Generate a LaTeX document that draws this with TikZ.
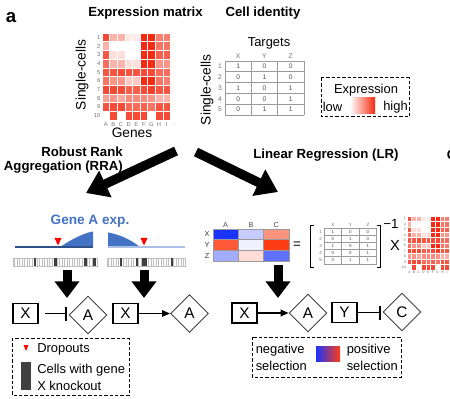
\documentclass[tikz,border=0pt]{standalone}
\usepackage{fontspec}
\setmainfont{Liberation Sans}
\setsansfont{Liberation Sans}
\usetikzlibrary{arrows.meta,positioning,calc,shapes.geometric}
\definecolor{Heat}{HTML}{F52A12}
\definecolor{GeneBlue}{HTML}{4472C4}
\definecolor{Drop}{HTML}{FF0000}
\definecolor{Knock}{HTML}{404040}
\definecolor{LabelGray}{HTML}{6E6E6E}
\definecolor{GridGray}{HTML}{9A9A9A}
\definecolor{SelBlue}{HTML}{1A33FF}
\definecolor{SelRed}{HTML}{FF3D15}

% expression heatmap: origin, scale, name prefix, column labels
\newcommand{\exprmap}[4]{%
  \begin{scope}[shift={#1},scale=#2,transform shape]
    \foreach \vals [count=\r] in {{85,35,35,10,10,100,100,60,60},{35,0,0,0,0,100,100,65,65},
        {80,15,15,0,0,100,100,75,75},{70,35,35,15,15,100,100,50,50},{80,80,85,80,80,85,85,70,70},
        {65,50,50,25,25,100,100,65,60},{85,85,85,75,75,85,90,80,80},{45,50,40,55,55,55,50,35,35},
        {80,85,85,70,70,75,65,80,80},{0,85,0,85,85,85,0,85,85}}{
      \foreach \v [count=\c] in \vals
        \fill[fill=Heat!\v!white,draw=white,line width=0.4pt] ({(\c-1)*7.6},{(\r-1)*8.7}) rectangle ++(7.6,8.7);
      \node[maplab,anchor=east] (#3r\r) at (-1.5,{(\r-0.5)*8.7}) {\r};
    }
    \foreach \l [count=\c] in {#4}
      \node[maplab] (#3c\c) at ({(\c-0.5)*7.6},91.5) {\l};
  \end{scope}}

% cell identity table: origin, scale, name prefix
\newcommand{\idtable}[3]{%
  \begin{scope}[shift={#1},scale=#2,transform shape]
    \foreach \vals [count=\r] in {{1,0,0},{0,1,0},{1,0,1},{0,0,1},{0,1,1}}{
      \foreach \v [count=\c] in \vals
        \node[idcell] (#3v\r\c) at ({(\c-0.5)*26.3},{(\r-0.5)*10.8}) {\v};
      \node[idlab,anchor=east] (#3r\r) at (-3,{(\r-0.5)*10.8}) {\r};
    }
    \foreach \l [count=\c] in {X,Y,Z}
      \node[idlab] (#3c\c) at ({(\c-0.5)*26.3},-4.5) {\l};
    \foreach \c in {0,...,3} \draw[idgrid] ({\c*26.3},0) -- ({\c*26.3},54);
    \foreach \r in {0,...,5} \draw[idgrid] (0,{\r*10.8}) -- (78.9,{\r*10.8});
  \end{scope}}

\begin{document}
\begin{tikzpicture}[x=0.75pt,y=-0.75pt,
  title/.style={font=\fontsize{9.9}{10.5}\selectfont\bfseries,inner sep=0pt},
  body/.style={font=\fontsize{9.7}{11}\selectfont,inner sep=0pt},
  maplab/.style={font=\fontsize{4.3}{5}\selectfont,text=LabelGray,inner sep=0pt},
  idlab/.style={font=\fontsize{5}{6}\selectfont,text=LabelGray,inner sep=0pt},
  idcell/.style={font=\fontsize{5}{6}\selectfont,text=black!70,inner sep=0pt},
  idgrid/.style={GridGray,line width=0.5pt},
  genebox/.style={draw,line width=0.8pt,minimum width=18.75pt,minimum height=15pt,inner sep=0pt,font=\fontsize{11.5}{12}\selectfont},
  genedia/.style={diamond,draw=black!75,line width=0.7pt,minimum width=28.5pt,minimum height=28.5pt,inner sep=0pt,font=\fontsize{11.5}{12}\selectfont},
  bigarrow/.style={line width=6.75pt,-{Triangle[width=18pt,length=12.5pt]}},
  slantarrow/.style={line width=7pt,-{Triangle[width=21pt,length=16pt]}},
  activate/.style={line width=0.8pt,-{Triangle[width=5pt,length=6pt]}},
  inhibit/.style={line width=0.8pt,-{Bar[width=10.5pt,line width=1.5pt]}},
  legendbox/.style={line width=0.75pt,dash pattern=on 2.5pt off 1.5pt},
  barcode/.style={black!25,line width=0.4pt}]
\useasboundingbox (0,0) rectangle (450,399);

% titles
\node[font=\fontsize{14}{14}\selectfont\bfseries] (panel) at (11,18) {a};
\node[title] (exptitle) at (145.5,13) {Expression matrix};
\node[title] (idtitle) at (263,13) {Cell identity};

% expression matrix
\exprmap{(102,33)}{1}{em}{A,B,C,D,E,F,G,H,I,.}
\node[body,rotate=90,font=\fontsize{10.3}{11}\selectfont] (emcells) at (82,75) {Single-cells};
\node[body,font=\fontsize{10.3}{11}\selectfont] (emgenes) at (132,133) {Genes};

% cell identity
\idtable{(225,61)}{1}{ci}
\node[body] (citargets) at (269,43) {Targets};
\node[body,rotate=90,font=\fontsize{10.3}{11}\selectfont] (cicells) at (207,90) {Single-cells};

% expression legend
\draw[legendbox] (321,78) rectangle (409,117);
\node[body] (explab) at (366,90) {Expression};
\node[body,anchor=west] (explow) at (322.5,107) {low};
\shade[left color=white,right color=Heat] (350,98) rectangle (375,114);
\node[body,anchor=east] (exphigh) at (408,107) {high};

% method titles and arrows
\node[title,align=right,anchor=east] (rra) at (123,160) {Robust Rank\\Aggregation (RRA)};
\node[title] (lr) at (326,155) {Linear Regression (LR)};
\node[title,anchor=west] (cut) at (446.5,155) {C};
\coordinate (rrafrom) at (176,151);
\coordinate (rrato) at (86,193);
\coordinate (lrfrom) at (196,152);
\coordinate (lrto) at (278,192);
\draw[slantarrow] (rrafrom) -- (rrato);
\draw[slantarrow] (lrfrom) -- (lrto);

% gene A expression
\node[title,text=GeneBlue,font=\fontsize{10.2}{11}\selectfont\bfseries] (genea) at (90,221) {Gene A exp.};
\fill[GeneBlue] (60,247) .. controls (72,239) and (84,233) .. (93,231.5) -- (93,247) -- cycle;
\draw[GeneBlue!70!black,line width=0.9pt] (15,247) -- (93,247);
\fill[GeneBlue] (108,232.5) .. controls (118,234) and (130,239) .. (140,247) -- (108,247) -- cycle;
\draw[GeneBlue!45,line width=0.9pt] (108,247) -- (185,247);
\fill[Drop] (54.5,238) -- (61.5,238) -- (58,245.5) -- cycle;
\fill[Drop] (140.5,238) -- (147.5,238) -- (144,245.5) -- cycle;

% knockout barcodes
\draw[barcode] (13,258) rectangle (97,266);
\foreach \t in {14.5,17,...,96} \draw[barcode] (\t,258) -- (\t,266);
\foreach \a/\b in {34/35.7,54.3/56.7,84/87.3,92.7/96} \fill[Knock] (\a,258) rectangle (\b,266);
\draw[barcode] (107,258) rectangle (185.5,266);
\foreach \t in {108.5,111,...,185} \draw[barcode] (\t,258) -- (\t,266);
\foreach \a/\b in {120/121.7,136/138.3,141.7/146.7,171/172.7} \fill[Knock] (\a,258) rectangle (\b,266);

% down arrows
\coordinate (rradown1) at (67,270);
\coordinate (rraend1) at (67,298);
\coordinate (rradown2) at (144,270);
\coordinate (rraend2) at (144,298);
\coordinate (lrdown) at (278,265);
\coordinate (lrend) at (278,298);
\draw[bigarrow] (rradown1) -- (rraend1);
\draw[bigarrow] (rradown2) -- (rraend2);
\draw[bigarrow] (lrdown) -- (lrend);

% RRA networks
\node[genebox] (x1) at (25.5,313.5) {X};
\node[genedia] (a1) at (88,315) {A};
\draw[inhibit,shorten <=5pt,shorten >=1.5pt] (x1) -- (x1 -| a1.west);
\node[genebox] (x2) at (125.5,313.5) {X};
\node[genedia] (a2) at (189.5,313.5) {A};
\draw[activate] (x2) -- (a2);

% RRA legend
\draw[legendbox] (12,338) rectangle (129,395);
\fill[Drop] (23.5,345) -- (28.5,345) -- (26,351) -- cycle;
\node[body,anchor=west] (dropout) at (37,349) {Dropouts};
\fill[Knock] (21,362) rectangle (31,390);
\node[body,anchor=west] (kocells) at (37,370) {Cells with gene};
\node[body,anchor=west] (kogene) at (37,386) {X knockout};

% LR coefficient matrix
\foreach \vals [count=\r] in {{SelBlue,SelBlue!25!white,SelRed!55!white},
    {SelRed!85!white,SelBlue!7!white,SelRed},
    {SelBlue!40!white,SelRed!18!white,SelBlue!70!white}}{
  \foreach \col [count=\c] in \vals
    \fill[fill=\col,draw=GridGray,line width=0.4pt] ({213+(\c-1)*25.3},{229+(\r-1)*10.7}) rectangle ++(25.3,10.7);
}
\foreach \l [count=\c] in {A,B,C}
  \node[idlab,font=\fontsize{5.5}{6}\selectfont,text=black!70] (lrc\c) at ({213+(\c-0.5)*25.3},224.5) {\l};
\foreach \l [count=\r] in {X,Y,Z}
  \node[idlab,font=\fontsize{5.5}{6}\selectfont,text=black!80] (lrr\r) at (207,{229+(\r-0.5)*10.7}) {\l};
\node[body,font=\fontsize{10}{11}\selectfont] (eq) at (297,245) {=};
\draw[line width=0.6pt] (314,225) -- (310.5,225) -- (310.5,267) -- (314,267);
\draw[line width=0.6pt] (376.5,225) -- (380,225) -- (380,267) -- (376.5,267);
\idtable{(324,228)}{0.667}{lt}
\node[body,font=\fontsize{10}{11}\selectfont] (inv) at (391,224) {−1};
\node[body,font=\fontsize{11}{12}\selectfont] (times) at (395,245) {X};
\exprmap{(407,216)}{0.62}{sm}{A,B,C,D,E,F,G,H,I}

% LR network
\node[genebox] (x3) at (244.5,313) {X};
\node[genedia] (a3) at (308,313) {A};
\draw[activate,line width=1.3pt] (x3) -- (a3);
\node[genebox] (y3) at (344.5,312.5) {Y};
\node[genedia] (c3) at (402,312) {C};
\draw[inhibit,shorten >=1.5pt] (y3) -- (y3 -| c3.west);

% LR legend
\draw[legendbox] (252,337) rectangle (401,377);
\node[body,anchor=west] (negsel) at (255.5,350) {negative};
\node[body,anchor=west] (negsel2) at (255.5,366) {selection};
\shade[left color=SelBlue,middle color=white,right color=SelRed] (316,346) rectangle (340,361);
\node[body,anchor=west] (possel) at (346.5,350) {positive};
\node[body,anchor=west] (possel2) at (346.5,366) {selection};
\end{tikzpicture}
\end{document}
